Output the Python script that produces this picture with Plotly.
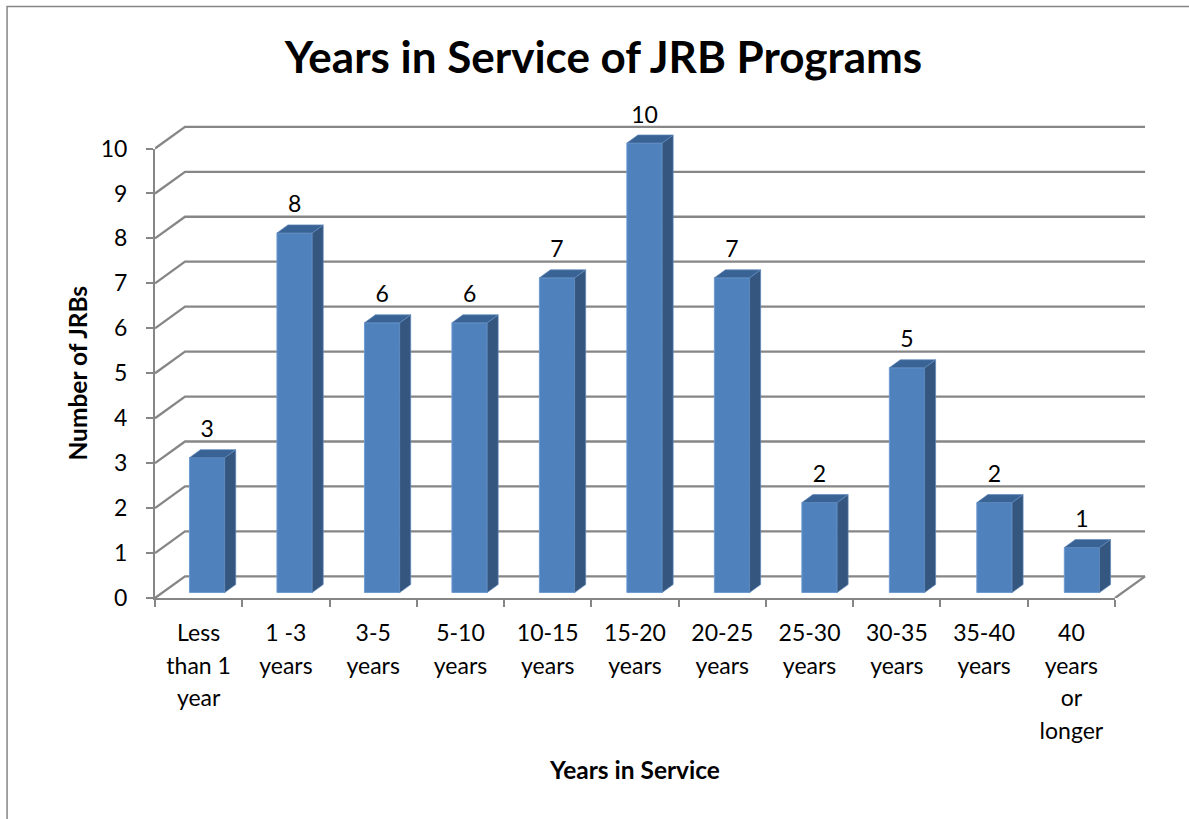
import plotly.graph_objects as go

categories = ["Less<br>than 1<br>year", "1 -3<br>years", "3-5<br>years", "5-10<br>years", "10-15<br>years",
              "15-20<br>years", "20-25<br>years", "25-30<br>years", "30-35<br>years", "35-40<br>years",
              "40<br>years<br>or<br>longer"]
values = [3, 8, 6, 6, 7, 10, 7, 2, 5, 2, 1]
y_ticks = list(range(11))

TITLE = "Years in Service of JRB Programs"
FONT = "Lato, Carlito, Calibri, sans-serif"
GRID = "#868686"
FRONT, SIDE, TOP = "#4F81BD", "#34567F", "#3A6395"

# pseudo-3D projection, in axis units
WALL_DX, WALL_DY = 0.344, 0.482
BAR_W, BAR_SHIFT, BAR_BASE, BAR_PITCH = 0.404, 0.097, 0.122, 1.0024
DEPTH_X, DEPTH_Y = 0.126, 0.178
LABEL_LIFT = 0.15
W, H = 1189, 819
# pixel box of the visible axes and of the wider drawing area holding the walls
AX_L, AX_R, AX_T, AX_B = 154.5, 1115, 148.5, 598
BOX_R, BOX_T = 1160, 90

n = len(categories)
ymax = y_ticks[-1]
dom_x = (AX_R - AX_L) / (BOX_R - AX_L)
dom_y = (AX_B - AX_T) / (AX_B - BOX_T)
centers = [0.5 + BAR_SHIFT + i * BAR_PITCH for i in range(n)]
fig = go.Figure()

# visible axes (carry ticks, labels and titles)
fig.add_trace(go.Scatter(x=[0], y=[0], mode="none", xaxis="x", yaxis="y", hoverinfo="skip", showlegend=False))

# back layer: floor and gridlines
gx, gy = [], []
for t in y_ticks:
    gx += [0, WALL_DX, n + WALL_DX, None]
    gy += [t, t + WALL_DY, t + WALL_DY, None]
gx += [n, n + WALL_DX]
gy += [0, WALL_DY]
fig.add_trace(go.Scatter(x=gx, y=gy, mode="lines", xaxis="x2", yaxis="y2",
                         line=dict(color=GRID, width=2.3), hoverinfo="skip", showlegend=False))

# front layer: the bars
fig.add_trace(go.Bar(x=centers, y=values, base=BAR_BASE, width=BAR_W, xaxis="x3", yaxis="y3", showlegend=False,
                     marker=dict(color=FRONT, line=dict(color="#6E9BD2", width=1))))
sx, sy, tx, ty = [], [], [], []
for c, v in zip(centers, values):
    r, l, top = c + BAR_W / 2, c - BAR_W / 2, v + BAR_BASE
    sx += [r, r + DEPTH_X, r + DEPTH_X, r, r, None]
    sy += [BAR_BASE, BAR_BASE + DEPTH_Y, top + DEPTH_Y, top, BAR_BASE, None]
    tx += [l, l + DEPTH_X, r + DEPTH_X, r, l, None]
    ty += [top, top + DEPTH_Y, top + DEPTH_Y, top, top, None]
for px, py, col in ((sx, sy, SIDE), (tx, ty, TOP)):
    fig.add_trace(go.Scatter(x=px, y=py, mode="lines", fill="toself", fillcolor=col, xaxis="x3", yaxis="y3",
                             line=dict(color="#5F88BC", width=0.7), hoverinfo="skip", showlegend=False))
fig.add_trace(go.Scatter(x=centers, y=[v + BAR_BASE + DEPTH_Y + LABEL_LIFT for v in values],
                         text=[str(v) for v in values], mode="text", textposition="top center",
                         xaxis="x3", yaxis="y3",
                         textfont=dict(family=FONT, size=23, color="black"), hoverinfo="skip", showlegend=False))

hidden = dict(visible=False, fixedrange=True, domain=[0, 1])
hx = {**hidden, "range": [0, n / dom_x]}
hy = {**hidden, "range": [0, ymax / dom_y]}
px_w = BOX_R - AX_L
px_h = AX_B - BOX_T
border_x = (6.5 - AX_L) / px_w
border_top = (AX_B - 6.5) / px_h
border_bot = (AX_B - 819) / px_h
border_r = (W - AX_L) / px_w
fig.update_layout(
    width=W, height=H, autosize=False,
    margin=dict(l=AX_L, r=W - BOX_R, t=BOX_T, b=H - AX_B, pad=0),
    paper_bgcolor="white", plot_bgcolor="rgba(0,0,0,0)", showlegend=False,
    font=dict(family=FONT, color="black"),
    title=dict(text=f"<b>{TITLE}</b>", x=603.5 / W, xanchor="center", y=1 - 58 / H, yanchor="middle",
               font=dict(family=FONT, size=44, color="black")),
    xaxis=dict(domain=[0, dom_x], range=[0, n], anchor="y", side="bottom", fixedrange=True,
               showgrid=False, zeroline=False, showline=True, linecolor=GRID, linewidth=2,
               tickmode="array", tickvals=[i + 0.5 for i in range(n)],
               ticktext=[f'<span style="font-size:23px">{c}</span>' for c in categories],
               ticks="", tickangle=0, ticklabelstandoff=11, tickfont=dict(family=FONT, size=25, color="black"),
               minor=dict(tickmode="array", tickvals=list(range(n + 1)), ticks="outside", ticklen=7,
                          tickcolor=GRID, tickwidth=2, showgrid=False),
               title=dict(text="<b>Years in Service</b>", standoff=19, font=dict(family=FONT, size=24.5, color="black"))),
    yaxis=dict(domain=[0, dom_y], range=[0, ymax], anchor="x", side="left", fixedrange=True,
               showgrid=False, zeroline=False, showline=True, linecolor=GRID, linewidth=2,
               tickmode="array", tickvals=y_ticks, ticks="outside", ticklen=7, tickcolor=GRID, tickwidth=2,
               ticklabelstandoff=14, tickfont=dict(family=FONT, size=23, color="black"),
               title=dict(text="<b>Number of JRBs</b>", standoff=6, font=dict(family=FONT, size=24.5, color="black"))),
    xaxis2={**hx, "anchor": "y2"}, yaxis2={**hy, "anchor": "x2"},
    xaxis3={**hx, "anchor": "y3"}, yaxis3={**hy, "anchor": "x3"},
    shapes=[dict(type="path", xref="paper", yref="paper", layer="below",
                 path=f"M {border_x} {border_bot} L {border_x} {border_top} L {border_r} {border_top}",
                 line=dict(color=GRID, width=1.5))],
)
fig.write_html("out.html", post_script="document.body.style.margin='0';document.documentElement.style.overflow='hidden';",
               config=dict(displayModeBar=False))
